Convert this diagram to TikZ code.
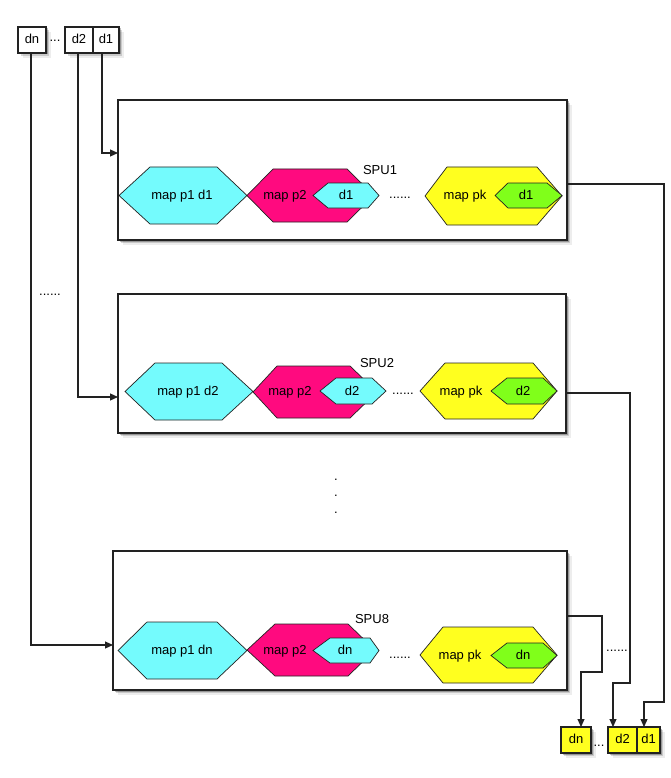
\documentclass[tikz,border=0pt]{standalone}
\usepackage{fontspec}
\setmainfont{Liberation Sans}
\usetikzlibrary{arrows.meta,shadows}
\definecolor{hcyan}{HTML}{74FBFD}
\definecolor{hmag}{HTML}{FF0A7F}
\definecolor{hyel}{HTML}{FFFF1F}
\definecolor{hgrn}{HTML}{80FF1A}
\definecolor{ln}{HTML}{222222}
% hexagon: left x, top-left x, top-right x, right x, top y, bottom y, colour
\newcommand{\hexshape}[7]{%
  \draw[hexline, fill=#7] (#1,{(#5+#6)/2}) -- (#2,#5) -- (#3,#5) -- (#4,{(#5+#6)/2}) -- (#3,#6) -- (#2,#6) -- cycle;}
\begin{document}
\begin{tikzpicture}[x=1pt,y=-1pt,
  font=\fontsize{13}{15}\selectfont,
  softshadow/.style={
    drop shadow={shadow xshift=1.5pt,shadow yshift=-1.5pt,opacity=0.25,fill=black},
    drop shadow={shadow xshift=3pt,shadow yshift=-3pt,opacity=0.15,fill=black},
    drop shadow={shadow xshift=5pt,shadow yshift=-5pt,opacity=0.07,fill=black}},
  spubox/.style={draw=ln, line width=1.2pt, fill=white, softshadow, inner sep=0pt, outer sep=0pt},
  databox/.style={draw=ln, line width=1.1pt, fill=white, softshadow, inner sep=0pt, outer sep=0pt,
    minimum height=26pt, text height=9.5pt, text depth=2.5pt},
  outbox/.style={databox, fill=hyel},
  hexline/.style={draw=ln, line width=0.7pt},
  hextext/.style={inner sep=0pt, text height=9.5pt, text depth=2.5pt},
  dotstext/.style={inner sep=0pt, anchor=base},
  conn/.style={draw=ln, line width=1.1pt},
  arr/.style={conn, -{Triangle[length=8pt,width=7pt]}}
]
\useasboundingbox[fill=white] (0,0) rectangle (670,778);

% input data blocks
\node[databox, minimum width=28pt] (tdn) at (32,40) {dn};
\node[dotstext] (tdots) at (55,42) {...};
\node[databox, minimum width=28pt] (td2) at (79,40) {d2};
\node[databox, minimum width=26pt] (td1) at (106,40) {d1};

% SPU boxes
\node[spubox, minimum width=449pt, minimum height=140pt] (spu1) at (342.5,170) {};
\node[spubox, minimum width=448pt, minimum height=139pt] (spu2) at (342,363.5) {};
\node[spubox, minimum width=454pt, minimum height=139pt] (spu8) at (340,620.5) {};

% SPU1 contents
\hexshape{119}{150}{217}{247}{167}{224}{hcyan}
\hexshape{247}{273}{347}{374}{169}{222}{hmag}
\hexshape{313}{328}{368}{379}{183}{208}{hcyan}
\hexshape{425}{447}{537}{562}{167}{225}{hyel}
\hexshape{495}{508}{547}{562}{183}{208}{hgrn}
\node[hextext] (a1) at (182,196) {map p1 d1};
\node[hextext] (a2) at (285,196) {map p2};
\node[hextext] (a3) at (346,196) {d1};
\node[hextext] (a4) at (465,196) {map pk};
\node[hextext] (a5) at (526,196) {d1};
\node[hextext] (l1) at (380,171) {SPU1};
\node[dotstext] (a6) at (400,198) {......};

% SPU2 contents
\hexshape{125}{155}{222}{253}{363}{420}{hcyan}
\hexshape{253}{277}{350}{377}{366}{418}{hmag}
\hexshape{320}{336}{372}{386}{378}{404}{hcyan}
\hexshape{420}{445}{533}{557}{363}{419}{hyel}
\hexshape{491}{507}{543}{557}{378}{404}{hgrn}
\node[hextext] (b1) at (188,392) {map p1 d2};
\node[hextext] (b2) at (290,392) {map p2};
\node[hextext] (b3) at (352,392) {d2};
\node[hextext] (b4) at (461,392) {map pk};
\node[hextext] (b5) at (523,392) {d2};
\node[hextext] (l2) at (377,364) {SPU2};
\node[dotstext] (b6) at (403,394) {......};

% SPU8 contents
\hexshape{118}{147}{217}{247}{622}{679}{hcyan}
\hexshape{247}{275}{348}{375}{624}{676}{hmag}
\hexshape{313}{330}{370}{379}{638}{663}{hcyan}
\hexshape{420}{443}{533}{557}{627}{683}{hyel}
\hexshape{491}{507}{543}{557}{643}{668}{hgrn}
\node[hextext] (c1) at (182,651) {map p1 dn};
\node[hextext] (c2) at (285,651) {map p2};
\node[hextext] (c3) at (345,651) {dn};
\node[hextext] (c4) at (460,656) {map pk};
\node[hextext] (c5) at (523,656) {dn};
\node[hextext] (l8) at (372,620) {SPU8};
\node[dotstext] (c6) at (400,658) {......};

% ellipses between
\node[dotstext] (ldots) at (50,295) {......};
\node[dotstext] (v1) at (336,480) {.};
\node[dotstext] (v2) at (336,496) {.};
\node[dotstext] (v3) at (336,513) {.};
\node[dotstext] (rdots) at (617,651) {......};

% output data blocks
\node[outbox, minimum width=30pt] (bdn) at (576,740) {dn};
\node[dotstext] (bdots) at (599,746) {...};
\node[outbox, minimum width=29pt] (bd2) at (622.5,740) {d2};
\node[outbox, minimum width=23pt] (bd1) at (648.5,740) {d1};

% input connectors
\draw[arr] (tdn.south -| 31,0) |- (spu8.west |- 0,645);
\draw[arr] (td2.south -| 78,0) |- (spu2.west |- 0,397);
\draw[arr] (td1.south -| 102,0) |- (spu1.west |- 0,153);

% output connectors
\draw[arr] (spu1.east |- 0,184) -| (664,702) -| (bd1.north -| 644,0);
\draw[arr] (spu2.east |- 0,393) -| (630,683) -| (bd2.north -| 613,0);
\draw[arr] (spu8.east |- 0,616) -| (602,672) -| (bdn.north -| 581,0);
\end{tikzpicture}
\end{document}
